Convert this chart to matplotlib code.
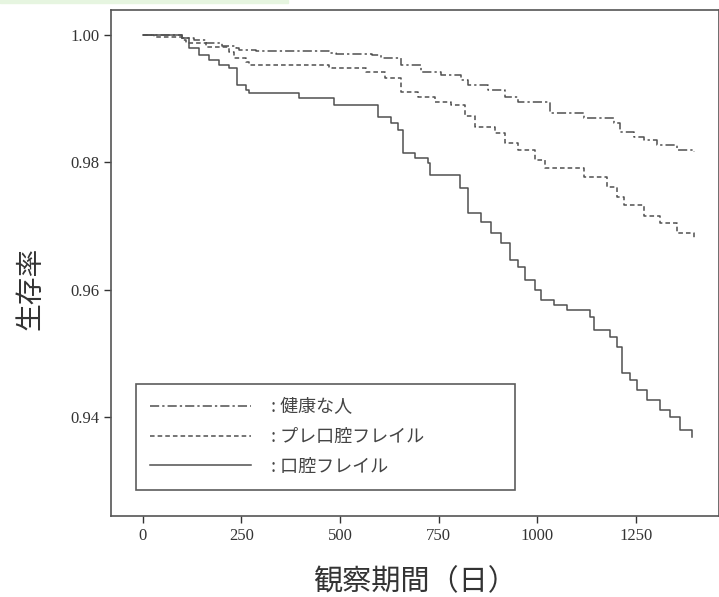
import matplotlib
matplotlib.use('Agg')
import matplotlib.pyplot as plt
from matplotlib.patches import Rectangle

# 観察期間（日）と生存率
healthy_x = [0, 101, 131, 161, 202, 237, 244, 287, 471, 489, 580, 605, 655, 706, 756, 806, 824, 874, 917, 950,
             1033, 1119, 1195, 1210, 1245, 1270, 1303, 1353, 1396]
healthy_y = [1.0000, 0.9995, 0.9992, 0.9987, 0.9983, 0.9980, 0.9976, 0.9975, 0.9972, 0.9970, 0.9969, 0.9964,
             0.9953, 0.9942, 0.9937, 0.9929, 0.9921, 0.9914, 0.9903, 0.9894,
             0.9878, 0.9870, 0.9862, 0.9848, 0.9840, 0.9835, 0.9827, 0.9819, 0.9816]

pre_x = [0, 30, 101, 111, 161, 219, 232, 262, 270, 471, 479, 565, 615, 655, 698, 741, 781, 817, 842, 892, 917, 950,
         993, 1018, 1119, 1177, 1202, 1220, 1270, 1310, 1353, 1396]
pre_y = [1.0000, 0.9997, 0.9992, 0.9987, 0.9981, 0.9973, 0.9964, 0.9958, 0.9953, 0.9950, 0.9948, 0.9942, 0.9933,
         0.9911, 0.9903, 0.9894, 0.9890, 0.9872, 0.9856, 0.9846, 0.9831, 0.9820,
         0.9804, 0.9791, 0.9777, 0.9761, 0.9746, 0.9733, 0.9715, 0.9705, 0.9689, 0.9682]

frail_x = [0, 101, 118, 144, 169, 194, 219, 239, 262, 270, 396, 484, 597, 630, 647, 660, 690, 723, 728, 804, 824,
           857, 882, 907, 930, 950, 968, 993, 1008, 1043, 1076, 1134, 1144, 1184, 1202, 1215, 1235, 1252, 1278,
           1310, 1336, 1361, 1391]
frail_y = [1.0000, 0.9995, 0.9980, 0.9969, 0.9961, 0.9953, 0.9948, 0.9922, 0.9914, 0.9909, 0.9901, 0.9890, 0.9871,
           0.9862, 0.9851, 0.9815, 0.9807, 0.9799, 0.9780, 0.9760, 0.9720,
           0.9706, 0.9689, 0.9673, 0.9647, 0.9636, 0.9616, 0.9600, 0.9584, 0.9576, 0.9569, 0.9558, 0.9537, 0.9526,
           0.9510, 0.9469, 0.9458, 0.9443, 0.9427, 0.9411, 0.9400, 0.9380, 0.9369]

labels = [': 健康な人', ': プレ口腔フレイル', ': 口腔フレイル']
xticks = [0, 250, 500, 750, 1000, 1250]
yticks = [0.94, 0.96, 0.98, 1.00]

plt.rcParams['font.family'] = ['Liberation Serif', 'Noto Sans CJK JP']
jp = ['Noto Sans CJK JP', 'DejaVu Sans']
col = '#505050'

fig = plt.figure(figsize=(7.19, 5.97), dpi=100)
fig.patches.append(Rectangle((0, 0.995), 0.4, 0.005, transform=fig.transFigure,
                             color='#e6f5e0', zorder=0))
ax = fig.add_axes([0.1544, 0.1357, 0.8456, 0.8475])

ax.step(healthy_x, healthy_y, where='post', color=col, lw=1.1,
        linestyle=(0, (6, 2, 1.5, 2)), label=labels[0])
ax.step(pre_x, pre_y, where='post', color=col, lw=1.1,
        linestyle=(0, (3, 2)), label=labels[1])
ax.step(frail_x, frail_y, where='post', color=col, lw=1.1,
        linestyle='-', label=labels[2])

ax.set_xlim(-80, 1460)
ax.set_ylim(0.9245, 1.0039)
ax.set_xticks(xticks)
ax.set_yticks(yticks)
ax.set_yticklabels(['%.2f' % v for v in yticks])
ax.tick_params(direction='out', length=5, width=1, colors='#333333', labelsize=12)

for s in ax.spines.values():
    s.set_color('#555555')
    s.set_linewidth(1.2)

ax.set_ylabel('生存率', family=jp, fontsize=20, color='#333333')
ax.yaxis.set_label_coords(-0.108, 0.45)
ax.set_xlabel('観察期間（日）', family=jp, fontsize=21, color='#333333', labelpad=17)

leg = ax.legend(loc='lower left', bbox_to_anchor=(0.041, 0.051, 0.623, 0.216), mode='expand',
                frameon=True, fancybox=False, handlelength=5.6, handletextpad=1.1,
                labelspacing=0.65, borderpad=0.8, prop={'family': jp, 'size': 13},
                borderaxespad=0)
leg.get_frame().set_edgecolor('#333333')
leg.get_frame().set_linewidth(1.2)
for t in leg.get_texts():
    t.set_color('#444444')

fig.savefig('out.png', dpi=100)
